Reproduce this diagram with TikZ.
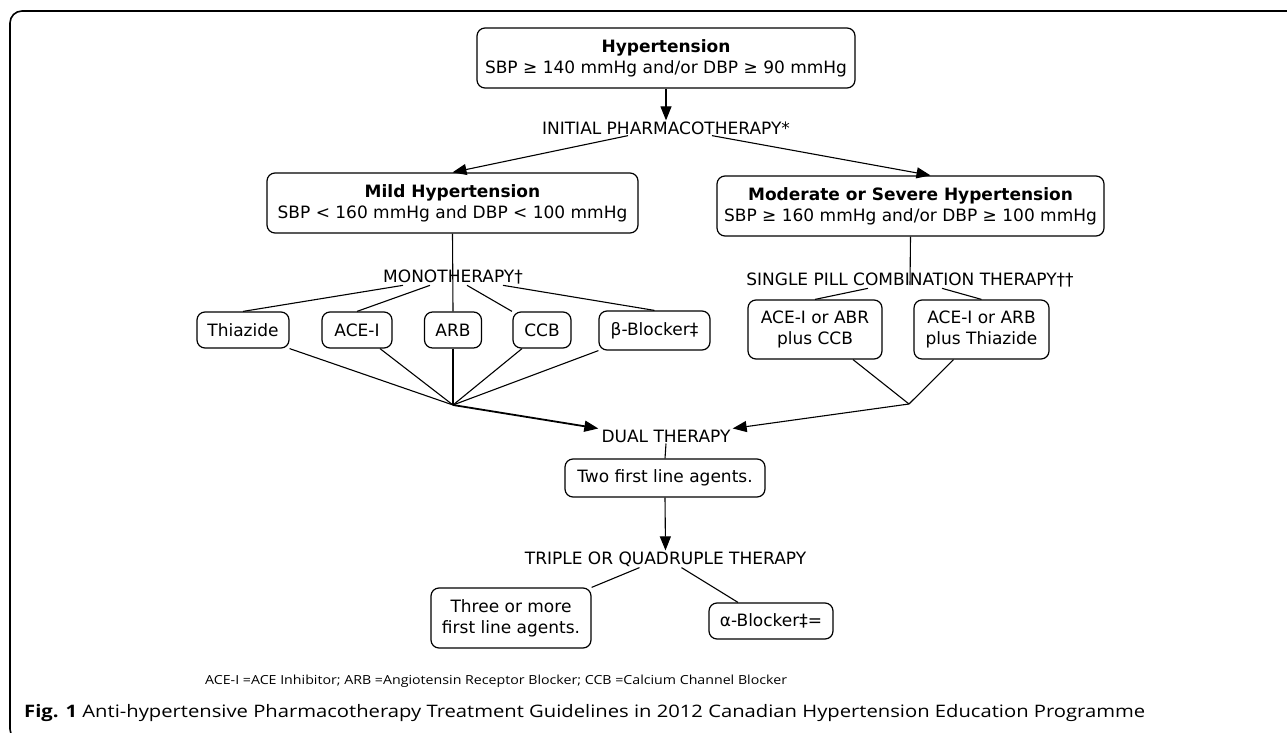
\documentclass[tikz,border=0pt]{standalone}
\usepackage{fontspec}
\setmainfont{DejaVu Sans}
\newfontfamily\legfont[FakeStretch=1.135]{Open Sans}
\newfontfamily\capfont[FakeStretch=1.175]{Open Sans}
\usetikzlibrary{arrows.meta}
\tikzset{
  box/.style={draw, rounded corners=8pt, line width=1.2pt, align=center, inner sep=0pt,
    font=\fontsize{17}{21}\selectfont},
  lbl/.style={inner sep=1pt, font=\fontsize{17}{20}\selectfont},
  conn/.style={line width=1.1pt},
  arr/.style={conn, -{Triangle[length=14pt,width=11pt]}},
  frame/.style={line width=1.6pt, rounded corners=12pt}
}
\begin{document}
\begin{tikzpicture}[x=1pt,y=-1pt]
\useasboundingbox (0,0) rectangle (1287,733);
\begin{scope}
\clip (0,0) rectangle (1287,733);
\draw[frame] (10,11) rectangle (1330,741);
\end{scope}

% boxes
\node[box, minimum width=378pt, minimum height=60pt] (hyp) at (666,58)
  {\textbf{Hypertension}\\SBP ≥ 140 mmHg and/or DBP ≥ 90 mmHg};
\node[lbl] (init) at (666,128) {INITIAL PHARMACOTHERAPY*};
\node[box, minimum width=371pt, minimum height=60pt] (mild) at (452.5,203)
  {\textbf{Mild Hypertension}\\SBP < 160 mmHg and DBP < 100 mmHg};
\node[box, minimum width=387pt, minimum height=60pt] (mod) at (910.5,206)
  {\textbf{Moderate or Severe Hypertension}\\SBP ≥ 160 mmHg and/or DBP ≥ 100 mmHg};
\node[lbl] (mono) at (453,277) {MONOTHERAPY†};
\node[lbl] (spc) at (910,280) {SINGLE PILL COMBINATION THERAPY††};

\node[box, minimum width=92pt, minimum height=36pt] (thz) at (243,330) {Thiazide};
\node[box, minimum width=70pt, minimum height=36pt] (ace) at (357,330) {ACE-I};
\node[box, minimum width=57pt, minimum height=36pt] (arb) at (453,330) {ARB};
\node[box, minimum width=58pt, minimum height=36pt] (ccb) at (542,330) {CCB};
\node[box, minimum width=111pt, minimum height=39pt] (bb) at (654.5,330.5) {β-Blocker‡};

\node[box, minimum width=134pt, minimum height=59pt] (c1) at (815,329.5) {ACE-I or ABR\\plus CCB};
\node[box, minimum width=135pt, minimum height=59pt] (c2) at (981.5,329.5) {ACE-I or ARB\\plus Thiazide};

\coordinate (cl) at (453,405);
\coordinate (cr) at (909,404);

\node[lbl] (dual) at (666,436) {DUAL THERAPY};
\node[box, minimum width=200pt, minimum height=38pt] (two) at (665,478) {Two first line agents.};
\node[lbl] (tri) at (665.5,559) {TRIPLE OR QUADRUPLE THERAPY};
\node[box, minimum width=160pt, minimum height=60pt] (three) at (511,618) {Three or more\\first line agents.};
\node[box, minimum width=124pt, minimum height=36pt] (alpha) at (771,621) {α-Blocker‡=};

\node[inner sep=0pt, anchor=base west, font=\legfont\fontsize{12.5}{15}\selectfont] (leg) at (205,684)
  {ACE-I =ACE Inhibitor; ARB =Angiotensin Receptor Blocker; CCB =Calcium Channel Blocker};
\node[inner sep=0pt, anchor=base west, font=\capfont\fontsize{17.2}{20}\selectfont] (cap) at (24,717)
  {\textbf{Fig. 1} Anti-hypertensive Pharmacotherapy Treatment Guidelines in 2012 Canadian Hypertension Education Programme};

% connectors
\draw[arr] (hyp.south) -- (init.north);
\draw[arr] ([xshift=-38pt]init.south) -- (mild.north);
\draw[arr] ([xshift=46pt]init.south) -- ([xshift=20pt]mod.north);

\draw[conn] (mild.south) -- (arb.north);
\draw[conn] ([xshift=-50pt]mono.south) -- (thz.north);
\draw[conn] ([xshift=-23pt]mono.south) -- (ace.north);
\draw[conn] ([xshift=14pt]mono.south) -- ([xshift=-30pt]ccb.north);
\draw[conn] ([xshift=50pt]mono.south) -- (bb.north);

\draw[conn] (thz.south east) -- (cl);
\draw[conn] ([xshift=23pt]ace.south) -- (cl);
\draw[conn] (arb.south) -- (cl);
\draw[conn] ([xshift=-20pt]ccb.south) -- (cl);
\draw[conn] (bb.south west) -- (cl);
\draw[arr, line width=1.8pt] (cl) -- ([xshift=-2pt]dual.north west);

\draw[conn] (mod.south) -- ([yshift=-5pt]spc.center);
\draw[conn] ([xshift=-42pt]spc.south) -- (c1.north);
\draw[conn] ([xshift=32pt]spc.south) -- (c2.north);
\draw[conn] ([xshift=38pt]c1.south) -- (cr);
\draw[conn] ([xshift=-28pt]c2.south) -- (cr);
\draw[arr] (cr) -- ([xshift=1pt]dual.north east);

\draw[conn] (dual.south) -- (two.north);
\draw[arr] (two.south) -- (tri.north);
\draw[conn] ([xshift=-26pt]tri.south) -- (three.north east);
\draw[conn] ([xshift=16pt]tri.south) -- ([xshift=-33pt]alpha.north);
\end{tikzpicture}
\end{document}
